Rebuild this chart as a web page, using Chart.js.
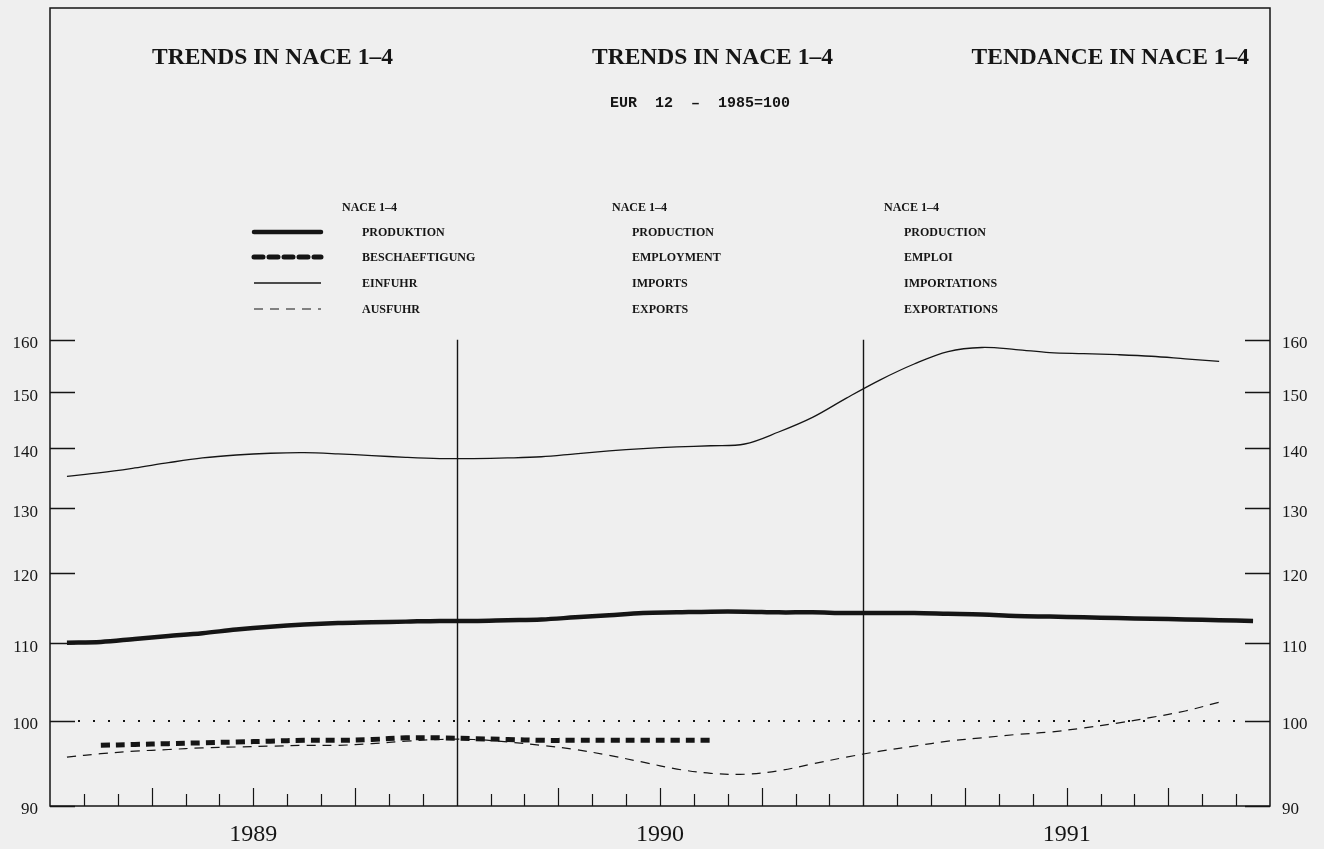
<!DOCTYPE html>
<html>
<head>
<meta charset="utf-8">
<script src="https://cdn.jsdelivr.net/npm/chart.js@4.4.0/dist/chart.umd.min.js"></script>
<style>
  body { margin: 0; background: #efefef; }
  #wrap { width: 1324px; height: 849px; }
</style>
</head>
<body>
<div id="wrap"><canvas id="tradeChart"></canvas></div>
<script>
// monthly index, Jan 1989 .. Dec 1991 (points sit mid-month)
const years = ['1989', '1990', '1991'];
const yTicks = [90, 100, 110, 120, 130, 140, 150, 160];

const production = [110.1, 110.2, 110.6, 111.0, 111.4, 111.9, 112.3, 112.6, 112.8, 112.9, 113.0, 113.1,
                    113.1, 113.2, 113.3, 113.6, 113.9, 114.2, 114.3, 114.4, 114.4, 114.3, 114.3, 114.2,
                    114.2, 114.2, 114.1, 114.0, 113.8, 113.7, 113.6, 113.5, 113.4, 113.3, 113.2, 113.1];
const employment = [null, 97.0, 97.1, 97.2, 97.3, 97.4, 97.5, 97.6, 97.6, 97.7, 97.9, 97.9,
                    97.8, 97.7, 97.6, 97.6, 97.6, 97.6, 97.6, 97.6, null, null, null, null,
                    null, null, null, null, null, null, null, null, null, null, null, null];
const imports = [135.2, 135.8, 136.6, 137.5, 138.3, 138.8, 139.1, 139.2, 139.0, 138.7, 138.4, 138.2,
                 138.2, 138.3, 138.5, 139.0, 139.5, 139.9, 140.2, 140.4, 140.7, 142.8, 145.4, 148.9,
                 152.3, 155.3, 157.7, 158.5, 158.1, 157.5, 157.3, 157.1, 156.8, 156.3, 155.8, null];
const exports = [95.6, 96.0, 96.3, 96.5, 96.7, 96.8, 96.9, 97.0, 97.0, 97.2, 97.5, 97.7,
                 97.7, 97.4, 97.0, 96.5, 95.8, 95.0, 94.2, 93.7, 93.6, 94.0, 94.8, 95.6,
                 96.3, 96.9, 97.5, 97.9, 98.3, 98.6, 99.1, 99.7, 100.4, 101.2, 102.3, null];

const titles = ['TRENDS IN NACE 1–4', 'TRENDS IN NACE 1–4', 'TENDANCE IN NACE 1–4'];
const subtitle = 'EUR  12  –  1985=100';
const legendHead = 'NACE 1–4';
const legendDe = ['PRODUKTION', 'BESCHAEFTIGUNG', 'EINFUHR', 'AUSFUHR'];
const legendEn = ['PRODUCTION', 'EMPLOYMENT', 'IMPORTS', 'EXPORTS'];
const legendFr = ['PRODUCTION', 'EMPLOI', 'IMPORTATIONS', 'EXPORTATIONS'];

const INK = '#151515';
const toPoints = arr => arr.map((v, i) => ({ x: i + 0.5, y: v }));

const series = [
  { label: legendDe[0], data: production, width: 4.5, dash: [] },
  { label: legendDe[1], data: employment, width: 5, dash: [9, 6] },
  { label: legendDe[2], data: imports, width: 1.3, dash: [] },
  { label: legendDe[3], data: exports, width: 1.2, dash: [9, 7] }
];

const framePlugin = {
  id: 'frame',
  beforeDraw(chart) {
    const c = chart.ctx;
    c.save();
    c.fillStyle = '#efefef';
    c.fillRect(0, 0, chart.width, chart.height);
    c.restore();
  },
  afterDraw(chart) {
    const c = chart.ctx;
    const a = chart.chartArea;
    const x = chart.scales.x, y = chart.scales.y;
    c.save();
    c.strokeStyle = INK;
    c.lineWidth = 1.5;
    c.strokeRect(a.left, a.top, a.right - a.left, a.bottom - a.top);

    // value ticks on both sides, pointing inwards
    c.lineWidth = 1.5;
    yTicks.forEach(v => {
      const py = Math.round(y.getPixelForValue(v)) + 0.5;
      c.beginPath();
      c.moveTo(a.left, py); c.lineTo(a.left + 25, py);
      c.moveTo(a.right - 25, py); c.lineTo(a.right, py);
      c.stroke();
    });

    // month ticks, longer at quarters
    c.lineWidth = 1.2;
    for (let m = 1; m < 36; m++) {
      if (m % 12 === 0) continue;
      const px = Math.round(x.getPixelForValue(m)) + 0.5;
      const len = m % 3 === 0 ? 18 : 12;
      c.beginPath();
      c.moveTo(px, a.bottom); c.lineTo(px, a.bottom - len);
      c.stroke();
    }
    // year separators
    c.lineWidth = 1.4;
    [12, 24].forEach(m => {
      const px = Math.round(x.getPixelForValue(m)) + 0.5;
      c.beginPath();
      c.moveTo(px, y.getPixelForValue(160)); c.lineTo(px, a.bottom);
      c.stroke();
    });
    // dotted base line at 100
    c.lineWidth = 2;
    c.setLineDash([2, 13]);
    const p100 = Math.round(y.getPixelForValue(100));
    c.beginPath();
    c.moveTo(a.left + 28, p100); c.lineTo(a.right - 25, p100);
    c.stroke();
    c.setLineDash([]);

    // titles
    c.fillStyle = INK;
    c.textBaseline = 'alphabetic';
    c.font = 'bold 23.5px "Liberation Serif"';
    c.textAlign = 'left';
    c.fillText(titles[0], 152, 64);
    c.fillText(titles[1], 592, 64);
    c.textAlign = 'right';
    c.fillText(titles[2], 1249, 64);
    c.textAlign = 'left';
    c.font = 'bold 15px "Liberation Mono"';
    c.fillText(subtitle, 610, 107);

    // legend block
    const rows = [233, 258, 284, 310];
    c.font = 'bold 12px "Liberation Serif"';
    c.textBaseline = 'middle';
    [342, 612, 884].forEach(cx => c.fillText(legendHead, cx, 208));
    rows.forEach((ry, i) => {
      c.fillText(legendDe[i], 362, ry);
      c.fillText(legendEn[i], 632, ry);
      c.fillText(legendFr[i], 904, ry);
      const s = series[i];
      c.strokeStyle = INK;
      c.lineWidth = s.width;
      c.setLineDash(s.dash);
      c.lineCap = s.width > 3 ? 'round' : 'butt';
      c.beginPath();
      c.moveTo(254, ry - 1); c.lineTo(321, ry - 1);
      c.stroke();
      c.setLineDash([]);
    });
    c.restore();
  }
};

const yAxis = (pos, w) => ({
  type: 'logarithmic',
  position: pos,
  min: 90,
  max: 241,
  grid: { display: false, drawTicks: false },
  border: { display: false },
  afterBuildTicks: s => { s.ticks = yTicks.map(v => ({ value: v })); },
  afterFit: s => { s.width = w; s.paddingTop = 0; s.paddingBottom = 0; },
  ticks: {
    padding: 12,
    labelOffset: 4,
    color: INK,
    font: { family: '"Liberation Serif"', size: 17 },
    callback: v => String(v)
  }
});

new Chart(document.getElementById('tradeChart'), {
  type: 'line',
  data: {
    datasets: series.map(s => ({
      label: s.label,
      data: toPoints(s.data),
      borderColor: INK,
      borderWidth: s.width,
      borderDash: s.dash,
      pointRadius: 0,
      tension: 0.35,
      fill: false,
      spanGaps: false
    }))
  },
  options: {
    responsive: true,
    maintainAspectRatio: false,
    animation: false,
    devicePixelRatio: 1,
    layout: { padding: { top: 8, left: 0, right: 0, bottom: 0 } },
    plugins: { legend: { display: false }, tooltip: { enabled: false } },
    scales: {
      x: {
        type: 'linear',
        min: 0,
        max: 36,
        grid: { display: false, drawTicks: false },
        border: { display: false },
        afterBuildTicks: s => { s.ticks = years.map((yr, k) => ({ value: 6 + 12 * k })); },
        afterFit: s => { s.height = 43; s.paddingLeft = 0; s.paddingRight = 0; },
        ticks: {
          padding: 14,
          color: INK,
          maxRotation: 0,
          font: { family: '"Liberation Serif"', size: 24 },
          callback: v => years[(v - 6) / 12]
        }
      },
      y: yAxis('left', 50),
      y2: yAxis('right', 54)
    }
  },
  plugins: [framePlugin]
});
</script>
</body>
</html>
